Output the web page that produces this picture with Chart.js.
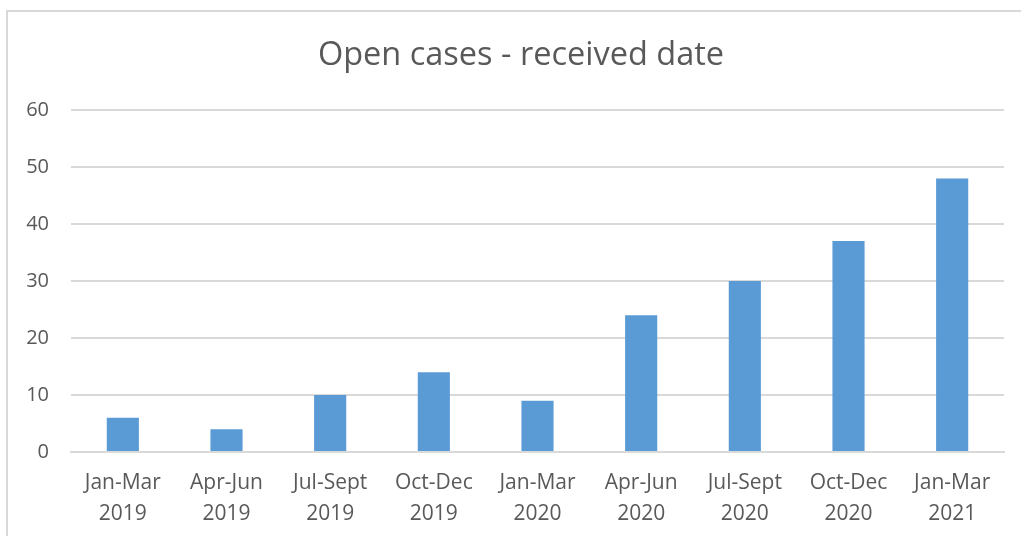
<!DOCTYPE html>
<html>
<head>
<meta charset="utf-8">
<script src="https://cdn.jsdelivr.net/npm/chart.js@4"></script>
<style>
  html, body { margin: 0; padding: 0; background: #fff; overflow: hidden; }
  #wrap { position: relative; width: 1021px; height: 536px; }
  #frame { position: absolute; left: 6px; top: 10px; width: 1040px; height: 560px; border: 2px solid #d9d9d9; box-sizing: border-box; }
  canvas { position: absolute; left: 0; top: 0; }
</style>
</head>
<body>
<div id="wrap">
  <div id="frame"></div>
  <canvas id="chart" width="1021" height="536"></canvas>
</div>
<script>
const quarters = [
  ["Jan-Mar", "2019"], ["Apr-Jun", "2019"], ["Jul-Sept", "2019"],
  ["Oct-Dec", "2019"], ["Jan-Mar", "2020"], ["Apr-Jun", "2020"],
  ["Jul-Sept", "2020"], ["Oct-Dec", "2020"], ["Jan-Mar", "2021"]
];
const openCases = [6, 4, 10, 14, 9, 24, 30, 37, 48];
const yTicks = [0, 10, 20, 30, 40, 50, 60];

const textColor = '#595959';
const gridColor = '#d9d9d9';
const font = "'Open Sans', 'Noto Sans', sans-serif";

// the title sits centred on the whole frame, a bit right of the plot's centre
const shiftTitle = {
  id: 'shiftTitle',
  afterLayout(chart) {
    const t = chart.titleBlock;
    if (t) { t.left += 19; t.right += 19; }
  }
};

new Chart(document.getElementById('chart').getContext('2d'), {
  type: 'bar',
  data: {
    labels: quarters,
    datasets: [{
      label: 'Open cases',
      data: openCases,
      backgroundColor: '#5b9bd5',
      categoryPercentage: 1,
      barPercentage: 0.31
    }]
  },
  options: {
    responsive: false,
    animation: false,
    layout: { padding: { left: 0, right: 17, top: 0, bottom: 0 } },
    plugins: {
      legend: { display: false },
      tooltip: { enabled: false },
      title: {
        display: true,
        text: 'Open cases - received date',
        color: textColor,
        font: { family: font, size: 32.5, weight: 'normal' },
        padding: { top: 36, bottom: 35 }
      }
    },
    scales: {
      y: {
        min: 0,
        max: 60,
        afterFit: s => { s.width = 71; },
        afterBuildTicks: s => { s.ticks = yTicks.map(v => ({ value: v })); },
        grid: { color: gridColor, lineWidth: 2, drawTicks: false },
        border: { display: false },
        ticks: { color: textColor, padding: 22, font: { family: font, size: 20 } }
      },
      x: {
        afterFit: s => { s.height = 84; },
        grid: { display: false, drawTicks: false },
        border: { display: true, color: gridColor, width: 2 },
        ticks: {
          color: textColor,
          padding: 15,
          maxRotation: 0,
          autoSkip: false,
          font: { family: font, size: 21, lineHeight: 1.48 }
        }
      }
    }
  },
  plugins: [shiftTitle]
});
</script>
</body>
</html>
